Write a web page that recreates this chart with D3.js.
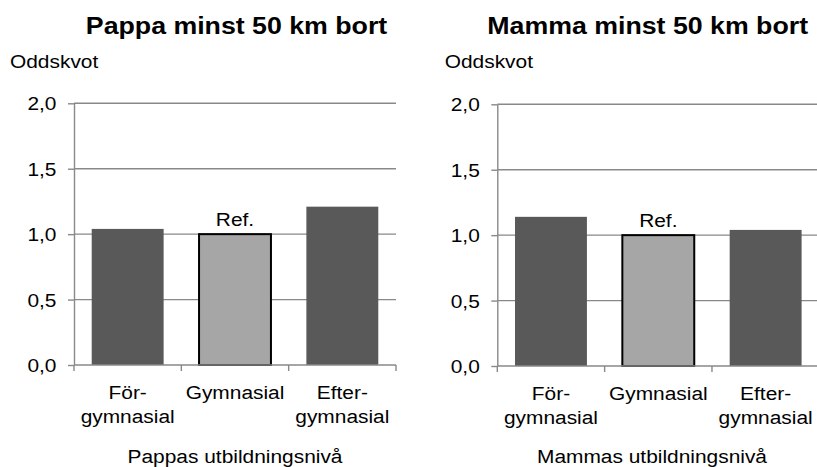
<!DOCTYPE html>
<html>
<head>
<meta charset="utf-8">
<script src="https://cdn.jsdelivr.net/npm/d3@7/dist/d3.min.js"></script>
<style>
  html, body { margin: 0; padding: 0; background: #fff; }
  svg { display: block; font-family: "Liberation Sans", Arial, sans-serif; }
</style>
</head>
<body>
<svg id="chart" width="817" height="467"></svg>
<script>
// data
const categories = ["Förgymnasial", "Gymnasial", "Eftergymnasial"];
const categoryLines = [["För-", "gymnasial"], ["Gymnasial"], ["Efter-", "gymnasial"]];
const pappaValues = [1.04, 1.00, 1.21];
const mammaValues = [1.14, 1.00, 1.04];
const yTicks = [0, 0.5, 1.0, 1.5, 2.0];
const refIndex = 1;

const panels = [
  {title: "Pappa minst 50 km bort", xTitle: "Pappas utbildningsnivå", values: pappaValues,
   x0: 74, x1: 396, yTop: 103.3, yBottom: 365, titleX: 236.5, yLabelX: 10, xTitleX: 235, shift: 0},
  {title: "Mamma minst 50 km bort", xTitle: "Mammas utbildningsnivå", values: mammaValues,
   x0: 497.3, x1: 819.3, yTop: 104.3, yBottom: 366, titleX: 647.7, yLabelX: 444.7, xTitleX: 652, shift: 1}
];

const SX = 1.1;            // text in the reference is slightly wide
const gridColor = "#898989";
const darkBar = "#595959";
const refBar = "#a6a6a6";

const svg = d3.select("#chart");

function label(g, x, y, text, size, anchor, weight) {
  return g.append("text")
      .attr("transform", `translate(${x},${y}) scale(${SX},1)`)
      .attr("text-anchor", anchor || "start")
      .attr("font-size", size)
      .attr("font-weight", weight || "normal")
      .attr("fill", "#000")
      .text(text);
}

panels.forEach(p => {
  const g = svg.append("g");

  const x = d3.scaleBand()
      .domain(categories)
      .range([p.x0, p.x1])
      .paddingInner(0.33)
      .paddingOuter(0.165);

  const y = d3.scaleLinear()
      .domain([0, 2])
      .range([p.yBottom, p.yTop]);

  // gridlines
  g.append("g")
      .selectAll("line")
      .data(yTicks.filter(d => d > 0))
      .join("line")
      .attr("x1", p.x0).attr("x2", p.x1)
      .attr("y1", d => y(d)).attr("y2", d => y(d))
      .attr("stroke", gridColor)
      .attr("stroke-width", 1.4);

  // y axis
  const yAxis = g.append("g")
      .attr("transform", `translate(${p.x0},0)`)
      .call(d3.axisLeft(y)
          .tickValues(yTicks)
          .tickSize(6)
          .tickSizeOuter(0)
          .tickFormat(d => d3.format(".1f")(d).replace(".", ",")));
  yAxis.select(".domain").attr("stroke", gridColor).attr("stroke-width", 1.4);
  yAxis.selectAll(".tick line").attr("stroke", gridColor).attr("stroke-width", 1.4);
  yAxis.selectAll(".tick text")
      .attr("x", null)
      .attr("dy", "0.34em")
      .attr("transform", `translate(-17.5,0) scale(${SX},1)`)
      .attr("font-size", 19)
      .attr("font-family", "Liberation Sans, Arial, sans-serif")
      .attr("fill", "#000");

  // bars
  g.append("g")
      .selectAll("rect")
      .data(p.values)
      .join("rect")
      .attr("x", (d, i) => x(categories[i]))
      .attr("y", d => y(d))
      .attr("width", x.bandwidth())
      .attr("height", d => y(0) - y(d))
      .attr("fill", (d, i) => i === refIndex ? refBar : darkBar)
      .attr("stroke", (d, i) => i === refIndex ? "#000" : "none")
      .attr("stroke-width", 2);

  // x axis line and boundary ticks
  g.append("line")
      .attr("x1", p.x0).attr("x2", p.x1)
      .attr("y1", y(0)).attr("y2", y(0))
      .attr("stroke", gridColor)
      .attr("stroke-width", 1.4);
  g.append("g")
      .selectAll("line")
      .data(d3.range(categories.length + 1))
      .join("line")
      .attr("x1", i => p.x0 + i * x.step())
      .attr("x2", i => p.x0 + i * x.step())
      .attr("y1", y(0)).attr("y2", y(0) + 6)
      .attr("stroke", gridColor)
      .attr("stroke-width", 1.4);

  // category labels
  categories.forEach((c, i) => {
    const cx = x(c) + x.bandwidth() / 2;
    categoryLines[i].forEach((line, j) => {
      label(g, cx, 399 + p.shift + j * 24.3, line, 19, "middle");
    });
  });

  // Ref. label
  label(g, x(categories[refIndex]) + x.bandwidth() / 2, y(p.values[refIndex]) - 8.5, "Ref.", 19, "middle");

  // titles
  label(g, p.titleX, 34.3, p.title, 24.3, "middle", "bold");
  label(g, p.yLabelX, 68.3, "Oddskvot", 19, "start");
  label(g, p.xTitleX, 462.5, p.xTitle, 19, "middle");
});
</script>
</body>
</html>
